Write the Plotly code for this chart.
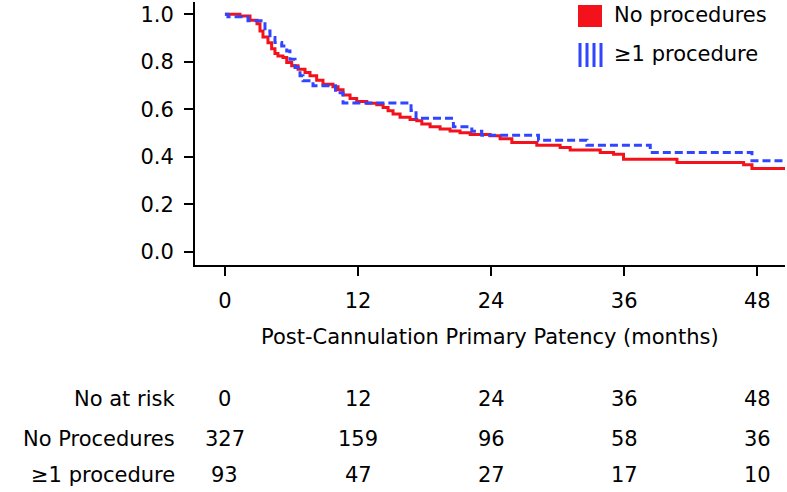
import plotly.graph_objects as go

# ── Kaplan-Meier step data (months, patency) ─────────────────────────────────
no_proc_t = [0, 1.35, 2.26, 2.89, 3.16, 3.43, 3.88, 4.21, 4.51, 4.78, 5.23, 5.57,
             6.02, 6.59, 7.22, 7.67, 8.27, 8.84, 9.74, 10.20, 10.65, 11.28, 11.88,
             12.79, 13.69, 14.26, 14.71, 15.16, 15.79, 16.69, 17.30, 17.75, 18.50,
             19.40, 20.30, 21.20, 22.11, 23.91, 24.81, 25.87, 28.12, 30.22, 31.13,
             33.84, 35.04, 35.94, 40.76, 46.77, 47.52, 50.5]
no_proc_s = [1.0, 0.993, 0.975, 0.96, 0.93, 0.905, 0.88, 0.855, 0.835, 0.825, 0.818,
             0.797, 0.783, 0.769, 0.755, 0.741, 0.722, 0.705, 0.695, 0.682, 0.66,
             0.645, 0.633, 0.625, 0.619, 0.608, 0.594, 0.58, 0.566, 0.557, 0.552,
             0.538, 0.526, 0.517, 0.509, 0.501, 0.494, 0.488, 0.476, 0.46, 0.449,
             0.439, 0.428, 0.418, 0.411, 0.39, 0.376, 0.366, 0.351, 0.351]

proc_t = [0, 0.27, 2.08, 3.61, 4.06, 4.51, 5.12, 5.57, 5.86, 6.32, 6.77, 7.04, 7.94,
          9.97, 10.65, 16.78, 17.23, 20.60, 22.26, 23.16, 28.27, 32.64, 38.35,
          47.52, 50.5]
proc_s = [1.0, 0.99, 0.973, 0.93, 0.902, 0.881, 0.867, 0.846, 0.811, 0.776, 0.741,
          0.72, 0.699, 0.67, 0.627, 0.595, 0.562, 0.526, 0.507, 0.491, 0.47, 0.448,
          0.418, 0.383, 0.383]

series_names = ["No procedures", "≥1 procedure"]

# ── Number at risk table ─────────────────────────────────────────────────────
risk_times = [0, 12, 24, 36, 48]
risk_no_proc = [327, 159, 96, 58, 36]
risk_proc = [93, 47, 27, 17, 10]
risk_labels = ["No at risk", "No Procedures", "≥1 procedure"]

y_ticks = [0.0, 0.2, 0.4, 0.6, 0.8, 1.0]
x_title = "Post-Cannulation Primary Patency (months)"

RED = "#f3121b"
BLUE = "#2f45ff"
FONT = "DejaVu Sans"
FS = 21

W, H = 787, 492
L, R, T, B = 195, 2, 2, 227


def pxx(x):
    return (x - L) / (W - L - R)


def pxy(y):
    return (H - B - y) / (H - T - B)


fig = go.Figure()

fig.add_trace(go.Scatter(x=no_proc_t, y=no_proc_s, mode="lines", line_shape="hv",
                         name=series_names[0], line=dict(color=RED, width=3)))
fig.add_trace(go.Scatter(x=proc_t, y=proc_s, mode="lines", line_shape="hv",
                         name=series_names[1],
                         line=dict(color=BLUE, width=3, dash="8px,4px")))

# ── Legend drawn by hand (square swatch + striped swatch) ────────────────────
shapes = [dict(type="rect", xref="paper", yref="paper",
               x0=pxx(578), x1=pxx(602), y0=pxy(27), y1=pxy(5),
               fillcolor=RED, line=dict(width=0))]
for sx in (580, 587, 594, 601):
    shapes.append(dict(type="line", xref="paper", yref="paper",
                       x0=pxx(sx), x1=pxx(sx), y0=pxy(67), y1=pxy(43),
                       line=dict(color=BLUE, width=3)))

annotations = []
for name, yc in zip(series_names, (15, 54)):
    annotations.append(dict(text=name, xref="paper", yref="paper",
                            x=pxx(612), y=pxy(yc), xanchor="left", yanchor="middle",
                            showarrow=False, font=dict(family=FONT, size=FS, color="black")))

annotations.append(dict(text=x_title, xref="paper", yref="paper", x=0.5, y=pxy(337),
                        xanchor="center", yanchor="middle", showarrow=False,
                        font=dict(family=FONT, size=FS, color="black")))

# ── Risk table ───────────────────────────────────────────────────────────────
rows = [risk_times, risk_no_proc, risk_proc]
for label, vals, yc in zip(risk_labels, rows, (399, 439, 475)):
    annotations.append(dict(text=label, xref="paper", yref="paper",
                            x=pxx(177), y=pxy(yc), xanchor="right", yanchor="middle",
                            showarrow=False, font=dict(family=FONT, size=FS, color="black")))
    for t, v in zip(risk_times, vals):
        annotations.append(dict(text=str(v), xref="x", yref="paper",
                                x=t, y=pxy(yc), xanchor="center", yanchor="middle",
                                showarrow=False,
                                font=dict(family=FONT, size=FS, color="black")))

fig.update_layout(
    width=W, height=H,
    margin=dict(l=L, r=R, t=T, b=B),
    paper_bgcolor="white", plot_bgcolor="white",
    showlegend=False,
    font=dict(family=FONT, size=FS, color="black"),
    shapes=shapes,
    annotations=annotations,
    xaxis=dict(range=[-2.7, 50.5], tickvals=risk_times, ticks="outside",
               ticklen=9, tickwidth=2, tickcolor="black",
               showline=True, linecolor="black", linewidth=2,
               showgrid=False, zeroline=False, ticklabelstandoff=7,
               tickfont=dict(family=FONT, size=FS, color="black")),
    yaxis=dict(range=[-0.056, 1.052], tickvals=y_ticks, tickformat=".1f",
               ticks="outside", ticklen=9, tickwidth=2, tickcolor="black",
               showline=True, linecolor="black", linewidth=2,
               showgrid=False, zeroline=False, ticklabelstandoff=6,
               tickfont=dict(family=FONT, size=FS, color="black")),
)

# page body has a default 8px margin; drop it so the figure fills the window
fig.write_html("out.html",
               config={"displayModeBar": False},
               post_script="document.body.style.margin='0';"
                           "document.body.style.overflow='hidden';")
